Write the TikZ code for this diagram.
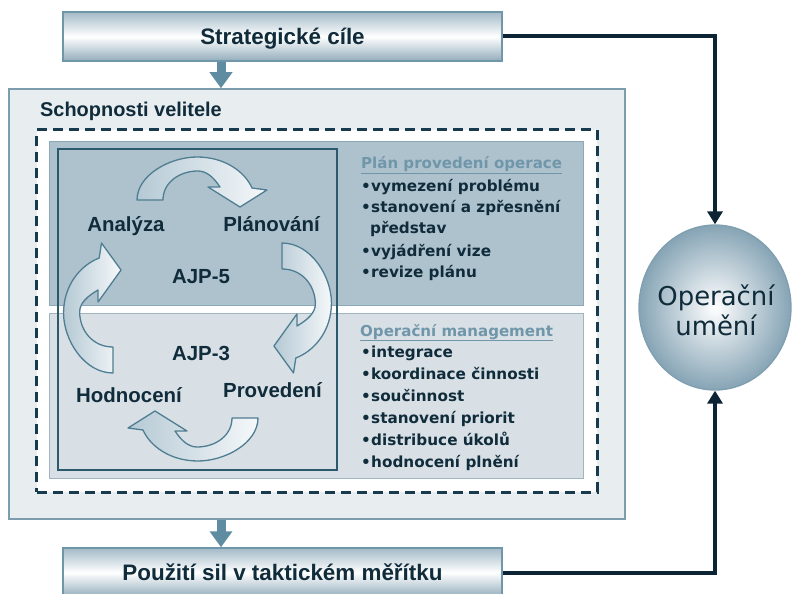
\documentclass[tikz,border=0pt]{standalone}
\usepackage{fontspec}
\setmainfont{Liberation Sans}
\newfontfamily\dvfont{DejaVu Sans}
\usetikzlibrary{arrows.meta,shapes.geometric}
\definecolor{ink}{HTML}{102C3B}
\definecolor{boxedge}{HTML}{6F96A9}
\definecolor{boxtop}{HTML}{A3BAC7}
\definecolor{boxbot}{HTML}{92ACBB}
\definecolor{outerfill}{HTML}{E8EDF0}
\definecolor{outeredge}{HTML}{7B9DAE}
\definecolor{upfill}{HTML}{AEC2CE}
\definecolor{upedge}{HTML}{8CA9B8}
\definecolor{lowfill}{HTML}{D8E0E6}
\definecolor{lowedge}{HTML}{9FB5C2}
\definecolor{dashc}{HTML}{173B4C}
\definecolor{sqc}{HTML}{2C596C}
\definecolor{arredge}{HTML}{4F7D91}
\definecolor{arrdark}{HTML}{B5C9D4}
\definecolor{arrlight}{HTML}{F5F8FA}
\definecolor{fatc}{HTML}{5F8CA0}
\definecolor{connc}{HTML}{0C2434}
\definecolor{headc}{HTML}{7096A9}
\definecolor{circedge}{HTML}{7F9FB0}
\definecolor{circout}{HTML}{86A4B5}
\tikzset{
  hdrbox/.style={draw=boxedge, line width=1.5bp, top color=boxtop, bottom color=boxbot, middle color=white,
    minimum width=439bp, minimum height=49bp, inner sep=0pt, text=ink,
    font=\bfseries\fontsize{22.5}{27}\selectfont, text height=16.1bp, text depth=0pt},
  panel/.style={line width=1bp, inner sep=0pt, minimum width=533bp},
  cyclab/.style={anchor=base, inner sep=0pt, text=ink, font=\bfseries\fontsize{20.5}{24}\selectfont},
  bul/.style={anchor=base west, inner sep=0pt, text=ink, font=\dvfont\bfseries\fontsize{15.3}{18}\selectfont},
  hd/.style={anchor=base west, inner sep=0pt, text=headc, font=\dvfont\bfseries\fontsize{15.1}{18}\selectfont},
  circlab/.style={anchor=base, inner sep=0pt, text=ink, font=\dvfont\fontsize{26}{30}\selectfont},
  conn/.style={line width=4bp, draw=connc, -{Triangle[width=15bp,length=13bp]}},
  fat/.style={line width=9bp, draw=fatc, -{Triangle[width=22bp,length=16bp]}},
  cycstyle/.style={draw=arredge, line width=1.3bp, left color=arrdark, right color=arrlight, line join=round},
  cyc/.pic={\path[cycstyle] (-63,0) .. controls (-63,-25) and (-30,-43) .. (-3,-43)
      .. controls (25,-43) and (45,-28) .. (52,-12) -- (67,-10) -- (40,7) -- (8,-13) -- (20,-13)
      .. controls (14,-22) and (7,-29) .. (-2,-29) .. controls (-20,-29) and (-37,-18) .. (-37,0) -- cycle;}
}
\begin{document}
\begin{tikzpicture}[x=1bp,y=-1bp]
\useasboundingbox (0,0) rectangle (792,594);
% boxes
\node[hdrbox] (top) at (282.5,36.5) {Strategické cíle};
\node[draw=outeredge, fill=outerfill, line width=1.5bp, minimum width=616bp, minimum height=430bp, inner sep=0pt] (outer) at (317,304) {};
\node[hdrbox] (bot) at (282.5,572.5) {Použití sil v taktickém měřítku};
\node[anchor=base west, inner sep=0pt, text=ink, font=\bfseries\fontsize{20}{24}\selectfont] (title) at (40,117) {Schopnosti velitele};
\node[draw=dashc, fill=white, line width=3bp, dash pattern=on 10bp off 6bp, minimum width=560bp, minimum height=362bp, inner sep=0pt] (dash) at (317,311) {};
\node[panel, draw=upedge, fill=upfill, minimum height=163bp] (up) at (316.5,223.5) {};
\node[panel, draw=lowedge, fill=lowfill, minimum height=165bp] (low) at (316.5,395.5) {};
\node[draw=sqc, line width=2bp, minimum width=279bp, minimum height=321bp, inner sep=0pt] (sq) at (197.5,309.5) {};
% cycle arrows
\begin{scope}[shift={(200,200)}] \pic[transform shape] {cyc}; \end{scope}
\begin{scope}[shift={(282,306)}, rotate=-90, yscale=1.15] \pic[transform shape] {cyc}; \end{scope}
\begin{scope}[shift={(195,418)}, rotate=180] \pic[transform shape] {cyc}; \end{scope}
\begin{scope}[shift={(113,310)}, rotate=90, yscale=1.15] \pic[transform shape] {cyc}; \end{scope}
% cycle labels
\node[cyclab] (ana) at (126,232) {Analýza};
\node[cyclab] (pla) at (271.5,232) {Plánování};
\node[cyclab] (ajp5) at (201,283) {AJP-5};
\node[cyclab] (ajp3) at (201,360) {AJP-3};
\node[cyclab] (hod) at (129,402) {Hodnocení};
\node[cyclab] (pro) at (272.5,397) {Provedení};
% upper list
\node[hd] (h1) at (361,169) {\underline{Plán provedení operace}};
\node[bul] (d1) at (361,192) {•}; \node[bul] (t1) at (371,192) {vymezení problému};
\node[bul] (d2) at (361,213) {•}; \node[bul] (t2) at (371,213) {stanovení a zpřesnění};
\node[bul] (t2b) at (370,234) {představ};
\node[bul] (d3) at (361,256) {•}; \node[bul] (t3) at (371,256) {vyjádření vize};
\node[bul] (d4) at (361,277) {•}; \node[bul] (t4) at (371,277) {revize plánu};
% lower list
\node[hd] (h2) at (360,336) {\underline{Operační management}};
\node[bul] (e1) at (361,357.5) {•}; \node[bul] (u1) at (371,357.5) {integrace};
\node[bul] (e2) at (361,379.5) {•}; \node[bul] (u2) at (371,379.5) {koordinace činnosti};
\node[bul] (e3) at (361,401.5) {•}; \node[bul] (u3) at (371,401.5) {součinnost};
\node[bul] (e4) at (361,423.5) {•}; \node[bul] (u4) at (371,423.5) {stanovení priorit};
\node[bul] (e5) at (361,445.5) {•}; \node[bul] (u5) at (371,445.5) {distribuce úkolů};
\node[bul] (e6) at (361,467.5) {•}; \node[bul] (u6) at (371,467.5) {hodnocení plnění};
% circle
\node[ellipse, draw=circedge, line width=1.3bp, inner color=white, outer color=circout, minimum width=152bp, minimum height=165bp, inner sep=0pt] (art) at (715,307.5) {};
\node[circlab] (art1) at (716,305) {Operační};
\node[circlab] (art2) at (716,335) {umění};
% connectors
\coordinate (ax) at (221,0);
\draw[fat] (top.south -| ax) -- (outer.north -| ax);
\draw[fat] (outer.south -| ax) -- (bot.north -| ax);
\draw[conn] (top.east) -| (art.north);
\draw[conn] (bot.east) -| (art.south);
\end{tikzpicture}
\end{document}
